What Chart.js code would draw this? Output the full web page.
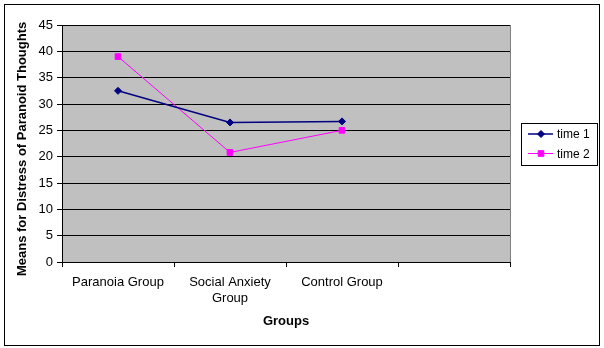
<!DOCTYPE html>
<html>
<head>
<meta charset="utf-8">
<script src="https://cdn.jsdelivr.net/npm/chart.js@4"></script>
<style>
  body { margin: 0; background: #fff; }
</style>
</head>
<body>
<canvas id="myChart" width="604" height="348"></canvas>
<script>
// data
var groups = ["Paranoia Group", ["Social Anxiety", "Group"], "Control Group", ""];
var time1 = [32.5, 26.5, 26.7];
var time2 = [39.0, 20.8, 25.0];
var seriesNames = ["time 1", "time 2"];
var yMin = 0, yMax = 45, yStep = 5;

Chart.defaults.font.family = "'Liberation Sans', Arial, sans-serif";
Chart.defaults.color = '#000';

// grey plot area, frame round the chart, boxed legend
var excelLook = {
    id: 'excelLook',
    beforeDraw: function (chart) {
        var ctx = chart.ctx, a = chart.chartArea;
        ctx.save();
        ctx.fillStyle = '#fff';
        ctx.fillRect(0, 0, chart.width, chart.height);
        ctx.fillStyle = '#c0c0c0';
        ctx.fillRect(a.left, a.top, a.right - a.left, a.bottom - a.top);
        ctx.restore();
    },
    afterDraw: function (chart) {
        var ctx = chart.ctx, a = chart.chartArea;
        ctx.save();
        ctx.lineWidth = 1;
        ctx.strokeStyle = '#808080';
        ctx.beginPath();
        ctx.moveTo(Math.round(a.right) + 0.5, a.top);
        ctx.lineTo(Math.round(a.right) + 0.5, a.bottom);
        ctx.stroke();

        ctx.strokeStyle = '#000';
        ctx.strokeRect(4.5, 4.5, 595, 341);

        // legend
        var lx = 521, ly = 123, lw = 76, lh = 42;
        ctx.fillStyle = '#fff';
        ctx.fillRect(lx, ly, lw, lh);
        ctx.strokeRect(lx + 0.5, ly + 0.5, lw, lh);
        ctx.font = "12px 'Liberation Sans', Arial, sans-serif";
        ctx.textBaseline = 'middle';
        chart.data.datasets.forEach(function (d, i) {
            var y = ly + 11 + i * 19.5;
            ctx.strokeStyle = d.borderColor;
            ctx.lineWidth = d.borderWidth;
            ctx.beginPath();
            ctx.moveTo(lx + 7, y);
            ctx.lineTo(lx + 32, y);
            ctx.stroke();
            ctx.fillStyle = d.pointBackgroundColor;
            ctx.strokeStyle = d.pointBorderColor;
            ctx.lineWidth = 1;
            Chart.helpers.drawPoint(ctx, { pointStyle: d.pointStyle, radius: d.pointRadius, borderWidth: 1, rotation: 0 }, lx + 20, y);
            ctx.fillStyle = '#000';
            ctx.fillText(d.label, lx + 36, y + 1);
        });
        ctx.restore();
    }
};

var ctx = document.getElementById("myChart").getContext('2d');
var myChart = new Chart(ctx, {
    type: 'line',
    data: {
        labels: groups,
        datasets: [{
            label: seriesNames[0],
            data: time1,
            borderColor: '#000080',
            borderWidth: 1.5,
            pointStyle: 'rectRot',
            pointRadius: 3.5,
            pointBackgroundColor: '#000080',
            pointBorderColor: '#000080',
            pointBorderWidth: 1
        }, {
            label: seriesNames[1],
            data: time2,
            borderColor: '#ff00ff',
            borderWidth: 1,
            pointStyle: 'rect',
            pointRadius: 4,
            pointBackgroundColor: '#ff00ff',
            pointBorderColor: '#ff00ff',
            pointBorderWidth: 1
        }]
    },
    options: {
        responsive: false,
        animation: false,
        layout: { padding: { left: 11, right: 94, top: 25, bottom: 16 } },
        plugins: {
            legend: { display: false },
            tooltip: { enabled: false }
        },
        scales: {
            x: {
                offset: true,
                grid: { offset: true, drawOnChartArea: false, color: '#000', tickLength: 5 },
                border: { color: '#000' },
                ticks: { color: '#000', font: { size: 13 }, padding: 8, maxRotation: 0, autoSkip: false },
                title: {
                    display: true,
                    text: 'Groups',
                    color: '#000',
                    font: { size: 13, weight: 'bold' },
                    padding: { top: 4, bottom: 3 }
                },
                afterFit: function (s) { s.height = 70; }
            },
            y: {
                min: yMin,
                max: yMax,
                ticks: { stepSize: yStep, color: '#000', font: { size: 13 }, padding: 4 },
                grid: { color: '#000', tickLength: 5 },
                border: { color: '#000' },
                title: {
                    display: true,
                    text: 'Means for Distress of Paranoid Thoughts   ',
                    color: '#000',
                    font: { size: 13, weight: 'bold' },
                    padding: { top: 4, bottom: 4 }
                },
                afterFit: function (s) { s.width = 51; }
            }
        }
    },
    plugins: [excelLook]
});
</script>
</body>
</html>
